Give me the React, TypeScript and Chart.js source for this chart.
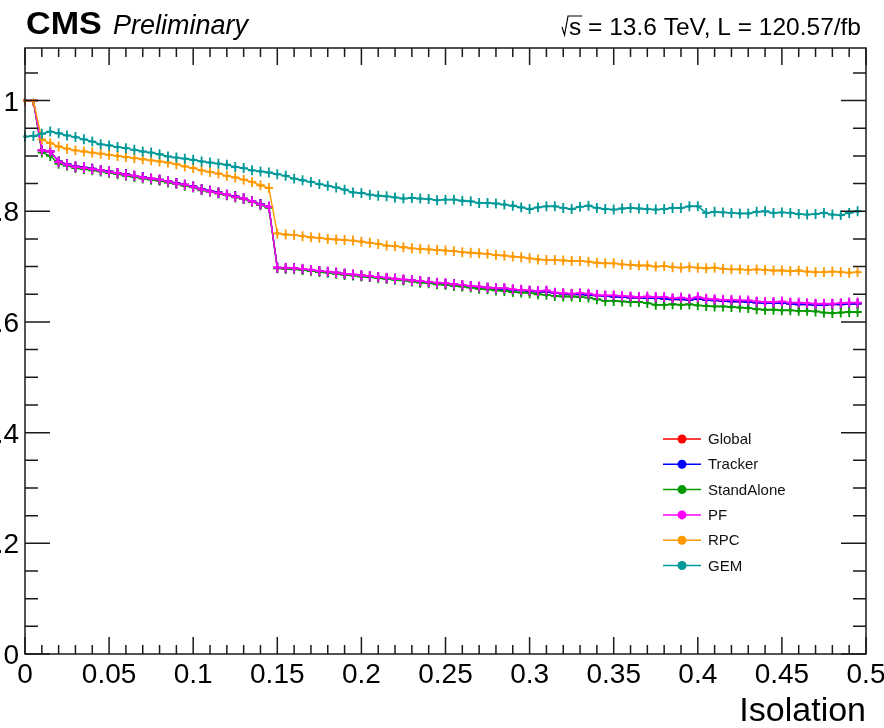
import React, { useEffect, useRef } from "react";
import { Chart, registerables } from "chart.js";

Chart.register(...registerables);

// ---------- DATA ----------
const isolationCuts = [
  0, 0.005, 0.01, 0.015, 0.02, 0.025, 0.03, 0.035, 0.04, 0.045,
  0.05, 0.055, 0.06, 0.065, 0.07, 0.075, 0.08, 0.085, 0.09, 0.095,
  0.1, 0.105, 0.11, 0.115, 0.12, 0.125, 0.13, 0.135, 0.14, 0.145,
  0.15, 0.155, 0.16, 0.165, 0.17, 0.175, 0.18, 0.185, 0.19, 0.195,
  0.2, 0.205, 0.21, 0.215, 0.22, 0.225, 0.23, 0.235, 0.24, 0.245,
  0.25, 0.255, 0.26, 0.265, 0.27, 0.275, 0.28, 0.285, 0.29, 0.295,
  0.3, 0.305, 0.31, 0.315, 0.32, 0.325, 0.33, 0.335, 0.34, 0.345,
  0.35, 0.355, 0.36, 0.365, 0.37, 0.375, 0.38, 0.385, 0.39, 0.395,
  0.4, 0.405, 0.41, 0.415, 0.42, 0.425, 0.43, 0.435, 0.44, 0.445,
  0.45, 0.455, 0.46, 0.465, 0.47, 0.475, 0.48, 0.485, 0.49, 0.495,
];

const globalEff = [
  1.0, 1.0, 0.91, 0.908, 0.89, 0.885, 0.881, 0.879, 0.877, 0.874,
  0.872, 0.869, 0.867, 0.864, 0.862, 0.859, 0.857, 0.854, 0.851, 0.848,
  0.845, 0.84, 0.837, 0.834, 0.83, 0.827, 0.823, 0.818, 0.813, 0.808,
  0.698, 0.697, 0.697, 0.695, 0.694, 0.692, 0.69, 0.689, 0.687, 0.685,
  0.684, 0.682, 0.681, 0.679, 0.678, 0.676, 0.675, 0.673, 0.672, 0.67,
  0.669, 0.668, 0.666, 0.665, 0.663, 0.662, 0.66, 0.66, 0.658, 0.657,
  0.656, 0.655, 0.655, 0.652, 0.651, 0.65, 0.65, 0.649, 0.648, 0.647,
  0.646, 0.645, 0.644, 0.644, 0.643, 0.643, 0.642, 0.641, 0.641, 0.64,
  0.642, 0.64, 0.639, 0.638, 0.637, 0.637, 0.636, 0.635, 0.634, 0.634,
  0.634, 0.633, 0.632, 0.632, 0.631, 0.631, 0.632, 0.632, 0.633, 0.633,
];

const trackerEff = [
  1.0, 1.0, 0.91, 0.908, 0.89, 0.885, 0.881, 0.879, 0.877, 0.874,
  0.872, 0.869, 0.867, 0.864, 0.862, 0.859, 0.857, 0.854, 0.851, 0.848,
  0.845, 0.84, 0.837, 0.834, 0.83, 0.827, 0.823, 0.818, 0.813, 0.808,
  0.698, 0.697, 0.697, 0.695, 0.694, 0.692, 0.69, 0.689, 0.687, 0.685,
  0.684, 0.682, 0.681, 0.679, 0.678, 0.676, 0.675, 0.673, 0.672, 0.67,
  0.669, 0.668, 0.666, 0.665, 0.663, 0.662, 0.66, 0.66, 0.658, 0.657,
  0.656, 0.655, 0.655, 0.652, 0.651, 0.65, 0.65, 0.649, 0.648, 0.647,
  0.646, 0.645, 0.644, 0.644, 0.643, 0.643, 0.642, 0.641, 0.641, 0.64,
  0.642, 0.64, 0.639, 0.638, 0.637, 0.637, 0.636, 0.635, 0.634, 0.634,
  0.634, 0.633, 0.632, 0.632, 0.631, 0.631, 0.632, 0.632, 0.633, 0.633,
];

const standAloneEff = [
  1.0, 1.0, 0.906, 0.9, 0.886, 0.882, 0.878, 0.876, 0.874, 0.872,
  0.869, 0.867, 0.864, 0.862, 0.859, 0.857, 0.855, 0.852, 0.849, 0.846,
  0.843, 0.838, 0.835, 0.832, 0.829, 0.825, 0.822, 0.817, 0.811, 0.806,
  0.697, 0.696, 0.695, 0.694, 0.692, 0.69, 0.689, 0.687, 0.685, 0.684,
  0.682, 0.681, 0.679, 0.678, 0.676, 0.675, 0.673, 0.671, 0.67, 0.668,
  0.667, 0.665, 0.664, 0.662, 0.66, 0.659, 0.657, 0.656, 0.654, 0.653,
  0.652, 0.65, 0.649, 0.647, 0.646, 0.646, 0.645, 0.644, 0.641, 0.638,
  0.638, 0.637, 0.636, 0.636, 0.634, 0.631, 0.631, 0.632, 0.631, 0.632,
  0.63, 0.629, 0.628, 0.628, 0.627, 0.626, 0.625, 0.623, 0.622, 0.622,
  0.621, 0.621, 0.62, 0.62, 0.619, 0.617, 0.616, 0.617, 0.618, 0.618,
];

const pfEff = [
  1.0, 1.0, 0.91, 0.908, 0.889, 0.884, 0.88, 0.878, 0.876, 0.874,
  0.871, 0.869, 0.866, 0.864, 0.861, 0.859, 0.857, 0.854, 0.85, 0.848,
  0.844, 0.839, 0.836, 0.833, 0.83, 0.826, 0.823, 0.818, 0.812, 0.808,
  0.698, 0.698, 0.697, 0.696, 0.694, 0.692, 0.691, 0.689, 0.687, 0.686,
  0.684, 0.683, 0.681, 0.68, 0.678, 0.677, 0.675, 0.674, 0.672, 0.671,
  0.67, 0.668, 0.667, 0.665, 0.664, 0.662, 0.661, 0.661, 0.659, 0.658,
  0.657, 0.656, 0.657, 0.653, 0.652, 0.651, 0.652, 0.651, 0.649, 0.648,
  0.648, 0.647, 0.646, 0.645, 0.646, 0.645, 0.645, 0.643, 0.644, 0.642,
  0.645, 0.642, 0.641, 0.64, 0.64, 0.639, 0.639, 0.637, 0.636, 0.636,
  0.637, 0.635, 0.635, 0.634, 0.633, 0.633, 0.633, 0.634, 0.635, 0.635,
];

const rpcEff = [
  1.0, 1.0, 0.93, 0.923, 0.917, 0.913, 0.91, 0.908, 0.906, 0.904,
  0.902, 0.9, 0.898, 0.896, 0.894, 0.892, 0.89, 0.888, 0.885, 0.881,
  0.878, 0.874, 0.871, 0.868, 0.864, 0.861, 0.857, 0.853, 0.847, 0.842,
  0.76, 0.758, 0.757, 0.755, 0.753, 0.752, 0.75, 0.749, 0.748, 0.747,
  0.745, 0.743, 0.741, 0.738, 0.737, 0.735, 0.733, 0.732, 0.731, 0.73,
  0.729, 0.728, 0.726, 0.725, 0.724, 0.723, 0.721, 0.72, 0.718, 0.717,
  0.715, 0.713, 0.712, 0.712, 0.711, 0.71, 0.71, 0.709, 0.707, 0.706,
  0.706, 0.704, 0.703, 0.702, 0.702, 0.7, 0.701, 0.699, 0.698, 0.699,
  0.698, 0.697, 0.698, 0.696, 0.695, 0.695, 0.694, 0.695, 0.694, 0.693,
  0.693, 0.692, 0.693, 0.691, 0.69, 0.69, 0.691, 0.69, 0.689, 0.69,
];

const gemEff = [
  0.935, 0.936, 0.94, 0.944, 0.941, 0.937, 0.934, 0.93, 0.926, 0.921,
  0.919, 0.916, 0.914, 0.911, 0.908, 0.906, 0.903, 0.899, 0.897, 0.895,
  0.893, 0.89, 0.888, 0.886, 0.884, 0.88, 0.878, 0.874, 0.872, 0.87,
  0.867, 0.864, 0.859, 0.856, 0.853, 0.849, 0.846, 0.843, 0.839, 0.834,
  0.833, 0.83, 0.828, 0.827, 0.825, 0.823, 0.824, 0.823, 0.822, 0.82,
  0.821, 0.821, 0.819, 0.818, 0.815, 0.815, 0.814, 0.812, 0.81, 0.807,
  0.804, 0.807, 0.809, 0.809, 0.806, 0.804, 0.808, 0.81, 0.806, 0.804,
  0.803, 0.805, 0.806, 0.805, 0.804, 0.803, 0.804, 0.806, 0.806, 0.809,
  0.809, 0.797, 0.799, 0.798, 0.797, 0.796, 0.796, 0.799, 0.8, 0.797,
  0.798, 0.797, 0.795, 0.794, 0.795, 0.797, 0.794, 0.793, 0.797, 0.8,
];

const seriesNames = ["Global", "Tracker", "StandAlone", "PF", "RPC", "GEM"];
const seriesValues = [globalEff, trackerEff, standAloneEff, pfEff, rpcEff, gemEff];
const seriesColors = ["#ff0000", "#0000ff", "#009900", "#ff00ff", "#ff9900", "#009999"];

const xErrorHalf = 0.0025;
const yErrorHalf = 0.009;

const xMajorTicks = [0, 0.05, 0.1, 0.15, 0.2, 0.25, 0.3, 0.35, 0.4, 0.45, 0.5];
const xTickLabels = ["0", "0.05", "0.1", "0.15", "0.2", "0.25", "0.3", "0.35", "0.4", "0.45", "0.5"];
const yMajorTicks = [0, 0.2, 0.4, 0.6, 0.8, 1];
const yTickLabels = ["0", "0.2", "0.4", "0.6", "0.8", "1"];
const xAxisTitle = "Isolation";
const xMin = 0;
const xMax = 0.5;
const yMin = 0;
const yMax = 1.095;

const FONT = "'Liberation Sans', Arial, Helvetica, sans-serif";

const errorBarPlugin = {
  id: "errorBars",
  afterDatasetDraw(chart: any, args: any) {
    const ctx = chart.ctx;
    const xs = chart.scales.x;
    const ys = chart.scales.y;
    const ds = chart.data.datasets[args.index];
    ctx.save();
    ctx.strokeStyle = ds.borderColor;
    ctx.lineWidth = 1.8;
    ds.data.forEach((p: any) => {
      const x0 = xs.getPixelForValue(Math.max(xMin, p.x - xErrorHalf));
      const x1 = xs.getPixelForValue(p.x + xErrorHalf);
      const xc = xs.getPixelForValue(p.x);
      const yc = ys.getPixelForValue(p.y);
      const y0 = ys.getPixelForValue(p.y - yErrorHalf);
      const y1 = ys.getPixelForValue(Math.min(p.y + yErrorHalf, 1.0 + 0.0001));
      ctx.beginPath();
      ctx.moveTo(x0, yc);
      ctx.lineTo(x1, yc);
      ctx.moveTo(xc, y0);
      ctx.lineTo(xc, y1);
      ctx.stroke();
    });
    ctx.restore();
  },
};

const rootFramePlugin = {
  id: "rootFrame",
  afterDraw(chart: any) {
    const ctx = chart.ctx;
    const xs = chart.scales.x;
    const ys = chart.scales.y;
    const { left, right, top, bottom } = chart.chartArea;
    ctx.save();
    ctx.strokeStyle = "#1a1a1a";
    ctx.lineWidth = 1.5;
    ctx.strokeRect(left, top, right - left, bottom - top);

    // x ticks (bottom + top)
    ctx.beginPath();
    for (let i = 0; i <= 50; i++) {
      const v = i * 0.01;
      const px = xs.getPixelForValue(v);
      const major = i % 5 === 0;
      const len = major ? 17 : 9;
      ctx.moveTo(px, bottom);
      ctx.lineTo(px, bottom - len);
      ctx.moveTo(px, top);
      ctx.lineTo(px, top + len);
    }
    // y ticks (left + right)
    for (let i = 0; i <= 21; i++) {
      const v = i * 0.05;
      if (v > yMax) break;
      const py = ys.getPixelForValue(v);
      const major = i % 4 === 0;
      const len = major ? 25 : 13;
      ctx.moveTo(left, py);
      ctx.lineTo(left + len, py);
      ctx.moveTo(right, py);
      ctx.lineTo(right - len, py);
    }
    ctx.stroke();

    // tick labels
    ctx.fillStyle = "#000";
    ctx.font = `28px ${FONT}`;
    ctx.textBaseline = "alphabetic";
    ctx.textAlign = "center";
    xMajorTicks.forEach((v, i) => {
      ctx.fillText(xTickLabels[i], xs.getPixelForValue(v), 683);
    });
    ctx.textAlign = "right";
    yMajorTicks.forEach((v, i) => {
      ctx.fillText(yTickLabels[i], 19, ys.getPixelForValue(v) + 10);
    });

    // axis title
    ctx.font = `34px ${FONT}`;
    ctx.textAlign = "right";
    ctx.fillText(xAxisTitle, right, 721);

    // CMS Preliminary
    ctx.textAlign = "left";
    ctx.save();
    ctx.translate(26, 34);
    ctx.scale(1.1, 1);
    ctx.font = `bold 31px ${FONT}`;
    ctx.fillText("CMS", 0, 0);
    ctx.restore();
    ctx.font = `italic 27px ${FONT}`;
    ctx.fillText("Preliminary", 113, 34);

    // energy / lumi
    ctx.font = `24.5px ${FONT}`;
    ctx.textAlign = "right";
    const rest = " = 13.6 TeV, L = 120.57/fb";
    const restX = 861;
    ctx.fillText(rest, restX, 35);
    const restW = ctx.measureText(rest).width;
    const sW = ctx.measureText("s").width;
    const sX = restX - restW - sW;
    ctx.textAlign = "left";
    ctx.fillText("s", sX, 35);
    ctx.lineWidth = 1.2;
    ctx.strokeStyle = "#000";
    ctx.beginPath();
    ctx.moveTo(sX - 7, 27);
    ctx.lineTo(sX - 4.5, 35);
    ctx.lineTo(sX - 1, 16);
    ctx.lineTo(sX + sW + 1, 16);
    ctx.stroke();

    // legend
    const legX = 663;
    const legY0 = 439;
    const legDy = 25.3;
    ctx.font = `15px ${FONT}`;
    ctx.textBaseline = "middle";
    seriesNames.forEach((name, i) => {
      const y = legY0 + i * legDy;
      ctx.strokeStyle = seriesColors[i];
      ctx.lineWidth = 1.5;
      ctx.beginPath();
      ctx.moveTo(legX, y);
      ctx.lineTo(legX + 38, y);
      ctx.stroke();
      ctx.fillStyle = seriesColors[i];
      ctx.beginPath();
      ctx.arc(legX + 19, y, 4.5, 0, Math.PI * 2);
      ctx.fill();
      ctx.fillStyle = "#111";
      ctx.textAlign = "left";
      ctx.fillText(name, legX + 45, y + 1);
    });
    ctx.restore();
  },
};

export default function App() {
  const canvasRef = useRef<HTMLCanvasElement | null>(null);

  useEffect(() => {
    if (!canvasRef.current) return;
    const datasets = seriesNames.map((name, i) => ({
      label: name,
      data: isolationCuts.map((x, j) => ({ x, y: seriesValues[i][j] })),
      borderColor: seriesColors[i],
      backgroundColor: seriesColors[i],
      borderWidth: 1.4,
      pointRadius: 1.8,
      pointBorderWidth: 0,
      pointBackgroundColor: seriesColors[i],
      tension: 0,
      clip: false as any,
      order: seriesNames.length - i,
    }));
    const chart = new Chart(canvasRef.current, {
      type: "line",
      data: { datasets },
      options: {
        animation: false,
        responsive: false,
        devicePixelRatio: 1,
        layout: { autoPadding: false, padding: { left: 25, right: 18, top: 48, bottom: 74 } },
        plugins: { legend: { display: false }, tooltip: { enabled: false } },
        scales: {
          x: { type: "linear", min: xMin, max: xMax, display: false },
          y: { type: "linear", min: yMin, max: yMax, display: false },
        },
      },
      plugins: [errorBarPlugin, rootFramePlugin],
    } as any);
    return () => chart.destroy();
  }, []);

  return (
    <div style={{ position: "fixed", left: 0, top: 0, width: 884, height: 728, background: "#fff" }}>
      <canvas ref={canvasRef} width={884} height={728} style={{ display: "block" }} />
    </div>
  );
}
